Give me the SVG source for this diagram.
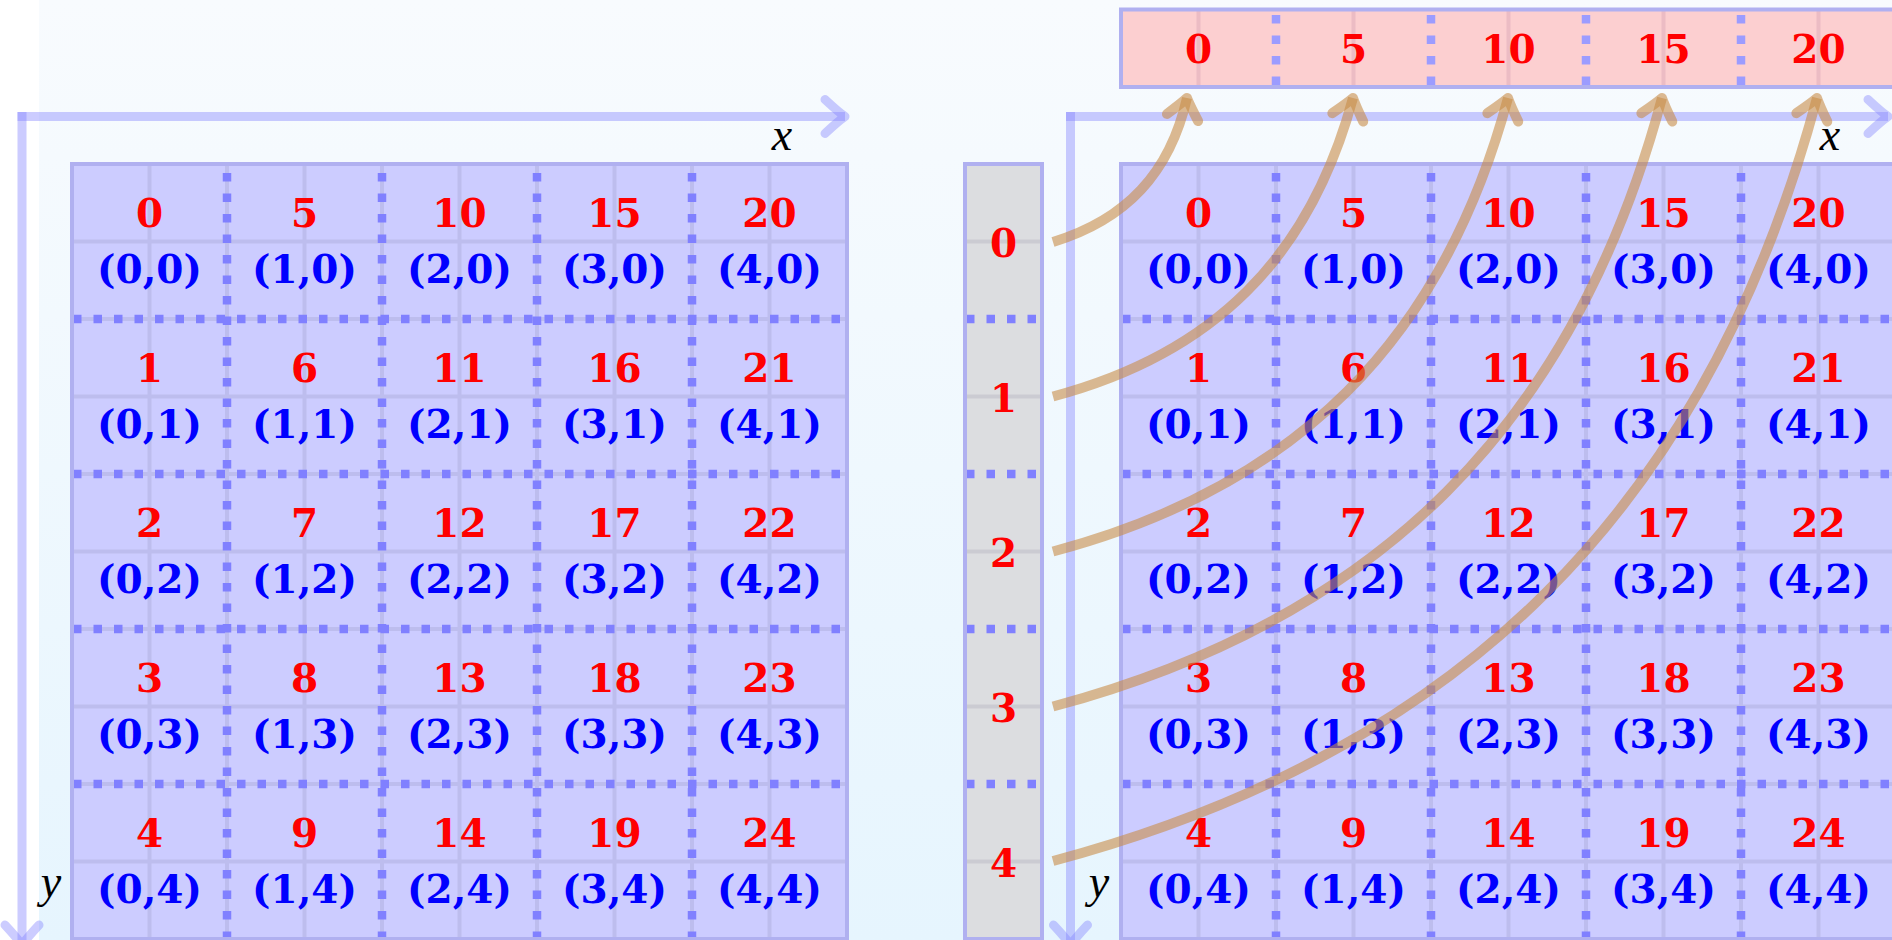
<svg xmlns="http://www.w3.org/2000/svg" width="1892" height="940" viewBox="0 0 1892 940">
<defs>
<linearGradient id="bg" x1="0" y1="0" x2="0" y2="1">
<stop offset="0" stop-color="#f8fbfe"/>
<stop offset="1" stop-color="#e6f5fe"/>
</linearGradient>
<marker id="axhead" markerUnits="userSpaceOnUse" orient="auto" viewBox="-30 -25 40 50" refX="0" refY="0" markerWidth="40" markerHeight="50">
<path d="M -20,-17 Q -6,-4 0,0 Q -6,4 -20,17" fill="none" stroke="#8080ff" stroke-opacity="0.4" stroke-width="9" stroke-linecap="round" stroke-linejoin="round"/>
</marker>
<marker id="brhead" markerUnits="userSpaceOnUse" orient="auto" viewBox="-30 -25 40 50" refX="0" refY="0" markerWidth="40" markerHeight="50">
<path d="M -20,-16 Q -6,-4 0,0 Q -6,4 -20,16" fill="none" stroke="#c88c48" stroke-opacity="0.6" stroke-width="10" stroke-linecap="round" stroke-linejoin="round"/>
</marker>
</defs>
<style>
.axis{fill:none;stroke:#8080ff;stroke-opacity:0.4;stroke-width:9}
.gridfill{fill:#ccccff;stroke:none}
.border{fill:none;stroke:#b0b0f0;stroke-width:4}
.sub{fill:none;stroke:#bdbdee;stroke-width:4}
.dot{fill:none;stroke:#8080ff;stroke-width:8.5;stroke-dasharray:8.5 12}
.dotl{fill:none;stroke:#9c9cff;stroke-width:8.5;stroke-dasharray:8.5 12}
.idx{font-family:'DejaVu Serif',serif;font-weight:bold;font-size:39px;fill:#ff0000;text-anchor:middle}
.crd{font-family:'DejaVu Serif',serif;font-weight:bold;font-size:39px;fill:#0000ff;text-anchor:middle}
.lab{font-family:'Liberation Serif',serif;font-style:italic;font-size:46px;fill:#000000;text-anchor:middle}
.conn{fill:none;stroke:#c88c48;stroke-opacity:0.6;stroke-width:10;stroke-linecap:butt}
</style>
<rect x="0" y="0" width="1892" height="940" fill="#ffffff"/>
<rect x="39" y="0" width="1853" height="940" fill="url(#bg)"/>

<g id="left-axes">
<line class="axis" x1="17.5" y1="116.5" x2="845" y2="116.5" marker-end="url(#axhead)"/>
<line class="axis" x1="22" y1="112" x2="22" y2="945" marker-end="url(#axhead)"/>
<text class="lab" x="782" y="150">x</text>
<text class="lab" x="51" y="897">y</text>
</g>

<g id="left-grid">
<rect class="gridfill" x="72" y="164" width="775" height="775"/>
<path class="sub" d="M149.5 164V939M227 164V939M304.5 164V939M382 164V939M459.5 164V939M537 164V939M614.5 164V939M692 164V939M769.5 164V939M72 241.5H847M72 319H847M72 396.5H847M72 474H847M72 551.5H847M72 629H847M72 706.5H847M72 784H847M72 861.5H847"/>
<path class="dot" d="M227 173V939M382 173V939M537 173V939M692 173V939M73 319H847M73 474H847M73 629H847M73 784H847"/>
<rect class="border" x="72" y="164" width="775" height="775"/>
</g>

<g id="left-cells">
<g id="L0-0"><text class="idx" x="149.5" y="227">0</text><text class="crd" x="149.5" y="283">(0,0)</text></g>
<g id="L1-0"><text class="idx" x="304.5" y="227">5</text><text class="crd" x="304.5" y="283">(1,0)</text></g>
<g id="L2-0"><text class="idx" x="459.5" y="227">10</text><text class="crd" x="459.5" y="283">(2,0)</text></g>
<g id="L3-0"><text class="idx" x="614.5" y="227">15</text><text class="crd" x="614.5" y="283">(3,0)</text></g>
<g id="L4-0"><text class="idx" x="769.5" y="227">20</text><text class="crd" x="769.5" y="283">(4,0)</text></g>
<g id="L0-1"><text class="idx" x="149.5" y="382">1</text><text class="crd" x="149.5" y="438">(0,1)</text></g>
<g id="L1-1"><text class="idx" x="304.5" y="382">6</text><text class="crd" x="304.5" y="438">(1,1)</text></g>
<g id="L2-1"><text class="idx" x="459.5" y="382">11</text><text class="crd" x="459.5" y="438">(2,1)</text></g>
<g id="L3-1"><text class="idx" x="614.5" y="382">16</text><text class="crd" x="614.5" y="438">(3,1)</text></g>
<g id="L4-1"><text class="idx" x="769.5" y="382">21</text><text class="crd" x="769.5" y="438">(4,1)</text></g>
<g id="L0-2"><text class="idx" x="149.5" y="537">2</text><text class="crd" x="149.5" y="593">(0,2)</text></g>
<g id="L1-2"><text class="idx" x="304.5" y="537">7</text><text class="crd" x="304.5" y="593">(1,2)</text></g>
<g id="L2-2"><text class="idx" x="459.5" y="537">12</text><text class="crd" x="459.5" y="593">(2,2)</text></g>
<g id="L3-2"><text class="idx" x="614.5" y="537">17</text><text class="crd" x="614.5" y="593">(3,2)</text></g>
<g id="L4-2"><text class="idx" x="769.5" y="537">22</text><text class="crd" x="769.5" y="593">(4,2)</text></g>
<g id="L0-3"><text class="idx" x="149.5" y="692">3</text><text class="crd" x="149.5" y="748">(0,3)</text></g>
<g id="L1-3"><text class="idx" x="304.5" y="692">8</text><text class="crd" x="304.5" y="748">(1,3)</text></g>
<g id="L2-3"><text class="idx" x="459.5" y="692">13</text><text class="crd" x="459.5" y="748">(2,3)</text></g>
<g id="L3-3"><text class="idx" x="614.5" y="692">18</text><text class="crd" x="614.5" y="748">(3,3)</text></g>
<g id="L4-3"><text class="idx" x="769.5" y="692">23</text><text class="crd" x="769.5" y="748">(4,3)</text></g>
<g id="L0-4"><text class="idx" x="149.5" y="847">4</text><text class="crd" x="149.5" y="903">(0,4)</text></g>
<g id="L1-4"><text class="idx" x="304.5" y="847">9</text><text class="crd" x="304.5" y="903">(1,4)</text></g>
<g id="L2-4"><text class="idx" x="459.5" y="847">14</text><text class="crd" x="459.5" y="903">(2,4)</text></g>
<g id="L3-4"><text class="idx" x="614.5" y="847">19</text><text class="crd" x="614.5" y="903">(3,4)</text></g>
<g id="L4-4"><text class="idx" x="769.5" y="847">24</text><text class="crd" x="769.5" y="903">(4,4)</text></g>
</g>

<g id="right-axes">
<line class="axis" x1="1066" y1="116.5" x2="1888" y2="116.5" marker-end="url(#axhead)"/>
<line class="axis" x1="1070.5" y1="112" x2="1070.5" y2="945" marker-end="url(#axhead)"/>
<text class="lab" x="1830" y="150">x</text>
<text class="lab" x="1099" y="897">y</text>
</g>

<g id="right-grid">
<rect class="gridfill" x="1121" y="164" width="775" height="775"/>
<path class="sub" d="M1198.5 164V939M1276 164V939M1353.5 164V939M1431 164V939M1508.5 164V939M1586 164V939M1663.5 164V939M1741 164V939M1818.5 164V939M1121 241.5H1896M1121 319H1896M1121 396.5H1896M1121 474H1896M1121 551.5H1896M1121 629H1896M1121 706.5H1896M1121 784H1896M1121 861.5H1896"/>
<path class="dot" d="M1276 173V939M1431 173V939M1586 173V939M1741 173V939M1122 319H1896M1122 474H1896M1122 629H1896M1122 784H1896"/>
<rect class="border" x="1121" y="164" width="775" height="775"/>
</g>

<g id="right-cells">
<g id="R0-0"><text class="idx" x="1198.5" y="227">0</text><text class="crd" x="1198.5" y="283">(0,0)</text></g>
<g id="R1-0"><text class="idx" x="1353.5" y="227">5</text><text class="crd" x="1353.5" y="283">(1,0)</text></g>
<g id="R2-0"><text class="idx" x="1508.5" y="227">10</text><text class="crd" x="1508.5" y="283">(2,0)</text></g>
<g id="R3-0"><text class="idx" x="1663.5" y="227">15</text><text class="crd" x="1663.5" y="283">(3,0)</text></g>
<g id="R4-0"><text class="idx" x="1818.5" y="227">20</text><text class="crd" x="1818.5" y="283">(4,0)</text></g>
<g id="R0-1"><text class="idx" x="1198.5" y="382">1</text><text class="crd" x="1198.5" y="438">(0,1)</text></g>
<g id="R1-1"><text class="idx" x="1353.5" y="382">6</text><text class="crd" x="1353.5" y="438">(1,1)</text></g>
<g id="R2-1"><text class="idx" x="1508.5" y="382">11</text><text class="crd" x="1508.5" y="438">(2,1)</text></g>
<g id="R3-1"><text class="idx" x="1663.5" y="382">16</text><text class="crd" x="1663.5" y="438">(3,1)</text></g>
<g id="R4-1"><text class="idx" x="1818.5" y="382">21</text><text class="crd" x="1818.5" y="438">(4,1)</text></g>
<g id="R0-2"><text class="idx" x="1198.5" y="537">2</text><text class="crd" x="1198.5" y="593">(0,2)</text></g>
<g id="R1-2"><text class="idx" x="1353.5" y="537">7</text><text class="crd" x="1353.5" y="593">(1,2)</text></g>
<g id="R2-2"><text class="idx" x="1508.5" y="537">12</text><text class="crd" x="1508.5" y="593">(2,2)</text></g>
<g id="R3-2"><text class="idx" x="1663.5" y="537">17</text><text class="crd" x="1663.5" y="593">(3,2)</text></g>
<g id="R4-2"><text class="idx" x="1818.5" y="537">22</text><text class="crd" x="1818.5" y="593">(4,2)</text></g>
<g id="R0-3"><text class="idx" x="1198.5" y="692">3</text><text class="crd" x="1198.5" y="748">(0,3)</text></g>
<g id="R1-3"><text class="idx" x="1353.5" y="692">8</text><text class="crd" x="1353.5" y="748">(1,3)</text></g>
<g id="R2-3"><text class="idx" x="1508.5" y="692">13</text><text class="crd" x="1508.5" y="748">(2,3)</text></g>
<g id="R3-3"><text class="idx" x="1663.5" y="692">18</text><text class="crd" x="1663.5" y="748">(3,3)</text></g>
<g id="R4-3"><text class="idx" x="1818.5" y="692">23</text><text class="crd" x="1818.5" y="748">(4,3)</text></g>
<g id="R0-4"><text class="idx" x="1198.5" y="847">4</text><text class="crd" x="1198.5" y="903">(0,4)</text></g>
<g id="R1-4"><text class="idx" x="1353.5" y="847">9</text><text class="crd" x="1353.5" y="903">(1,4)</text></g>
<g id="R2-4"><text class="idx" x="1508.5" y="847">14</text><text class="crd" x="1508.5" y="903">(2,4)</text></g>
<g id="R3-4"><text class="idx" x="1663.5" y="847">19</text><text class="crd" x="1663.5" y="903">(3,4)</text></g>
<g id="R4-4"><text class="idx" x="1818.5" y="847">24</text><text class="crd" x="1818.5" y="903">(4,4)</text></g>
</g>

<g id="gray-column">
<rect x="965" y="164" width="77" height="775" fill="#dcdde0"/>
<path class="sub" d="M965 241.5H1042M965 396.5H1042M965 551.5H1042M965 706.5H1042M965 861.5H1042" style="stroke:#cbcbd2"/>
<path class="dot" d="M966 319H1042M966 474H1042M966 629H1042M966 784H1042"/>
<rect class="border" x="965" y="164" width="77" height="775"/>
<g id="G0"><text class="idx" x="1003.5" y="257">0</text></g>
<g id="G1"><text class="idx" x="1003.5" y="412">1</text></g>
<g id="G2"><text class="idx" x="1003.5" y="567">2</text></g>
<g id="G3"><text class="idx" x="1003.5" y="722">3</text></g>
<g id="G4"><text class="idx" x="1003.5" y="877">4</text></g>
</g>

<g id="red-array">
<rect x="1121" y="9.5" width="775" height="77.5" fill="#fccfd0"/>
<path class="sub" d="M1198.5 9.5V87M1353.5 9.5V87M1508.5 9.5V87M1663.5 9.5V87M1818.5 9.5V87" style="stroke:#ecbcc4"/>
<path class="dotl" d="M1276 15V87M1431 15V87M1586 15V87M1741 15V87"/>
<rect class="border" x="1121" y="9.5" width="775" height="77.5"/>
<g id="A0"><text class="idx" x="1198.5" y="63">0</text></g>
<g id="A1"><text class="idx" x="1353.5" y="63">5</text></g>
<g id="A2"><text class="idx" x="1508.5" y="63">10</text></g>
<g id="A3"><text class="idx" x="1663.5" y="63">15</text></g>
<g id="A4"><text class="idx" x="1818.5" y="63">20</text></g>
</g>

<g id="connectors">
<path class="conn" d="M1053 242C1126.6 219.4 1169.8 173 1187 98" marker-end="url(#brhead)"/>
<path class="conn" d="M1053 396.5C1213.2 354 1309.7 258 1353 98" marker-end="url(#brhead)"/>
<path class="conn" d="M1053 551.5C1296 486.8 1442.5 340.8 1508 98" marker-end="url(#brhead)"/>
<path class="conn" d="M1053 706.5C1378.5 619.4 1574.6 423.5 1662 98" marker-end="url(#brhead)"/>
<path class="conn" d="M1053 861C1461.4 751.9 1707.3 506.2 1817 98" marker-end="url(#brhead)"/>
</g>
</svg>
